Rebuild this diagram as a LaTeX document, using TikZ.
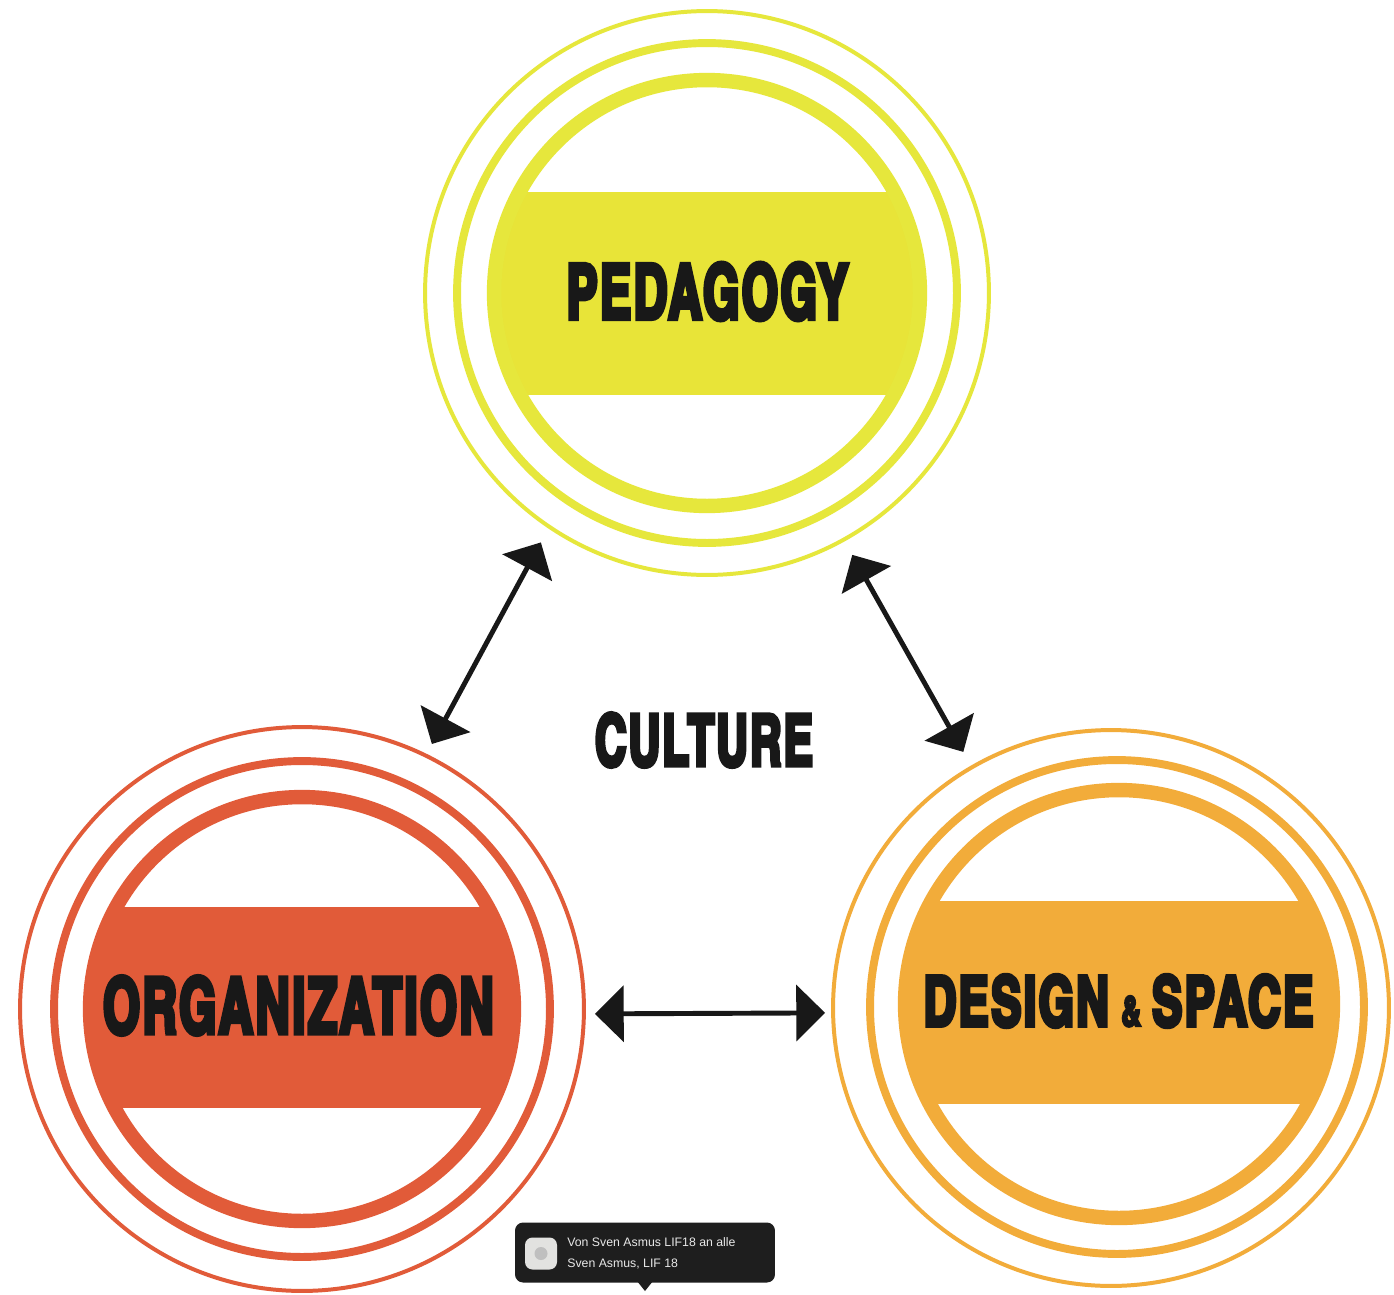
\documentclass[tikz,border=0pt]{standalone}
\usepackage{fontspec}
\usepackage{graphicx}
\setmainfont{Liberation Sans}
\newfontfamily\impact{texgyreheroscn-bold.otf}[FakeBold=6, LetterSpace=4]
\newfontfamily\uifont{Liberation Sans}
\usetikzlibrary{arrows.meta}
\definecolor{ylw}{RGB}{232,228,56}
\definecolor{ylwring}{RGB}{230,231,60}
\definecolor{redc}{RGB}{225,91,57}
\definecolor{orng}{RGB}{242,172,58}
\definecolor{ink}{RGB}{24,24,24}
\definecolor{popbg}{RGB}{30,30,30}
\definecolor{poptext}{RGB}{232,232,232}
\definecolor{iconbg}{RGB}{226,226,224}
\tikzset{
  outerring/.style={circle, draw=#1, line width=2.27pt, inner sep=0pt, outer sep=0pt},
  midring/.style={draw=#1, line width=4.5pt},
  innerring/.style={draw=#1, line width=8.2pt},
  title/.style={font=\impact, text=ink, inner sep=0pt, outer sep=0pt},
  biarrow/.style={draw=ink, line width=2.8pt,
    {Triangle[length=16.4pt,width=31.7pt]}-{Triangle[length=16.4pt,width=31.7pt]}},
  popline/.style={anchor=base west, inner sep=0pt, text=poptext,
    font=\uifont\fontsize{7pt}{8pt}\selectfont}
}
\begin{document}
\begin{tikzpicture}[x=0.02cm, y=-0.02cm]
\useasboundingbox (0,0) rectangle (1394,1295);
\fill[white] (0,0) rectangle (1394,1295);

% ---------- PEDAGOGY (yellow) ----------
\node[outerring=ylwring, minimum size=11.28cm] (ped) at (707,293) {};
\begin{scope}
  \clip (ped.center) circle[radius=4.26cm];
  \fill[ylw] (400,192) rectangle (1000,395);
\end{scope}
\draw[innerring=ylwring] (ped.center) circle[radius=4.26cm];
\draw[midring=ylwring] (ped.center) circle[radius=5.0cm];
\node[title] (tped) at (707.5,291.5) {\resizebox{5.64cm}{1.12cm}{PEDAGOGY}};

% ---------- ORGANIZATION (red) ----------
\node[outerring=redc, minimum size=11.28cm] (org) at (302,1009) {};
\begin{scope}
  \clip (org.center) circle[radius=4.24cm];
  \fill[redc] (0,907) rectangle (600,1108);
\end{scope}
\draw[innerring=redc] (org.center) circle[radius=4.24cm];
\draw[midring=redc] (org.center) circle[radius=4.96cm];
\node[title] (torg) at (298.5,1005.5) {\resizebox{7.82cm}{1.14cm}{ORGANIZATION}};

% ---------- DESIGN & SPACE (orange) ----------
\node[outerring=orng, minimum size=11.12cm] (des) at (1111,1008) {};
\coordinate (desin) at (1119,1004);
\coordinate (desmid) at (1117,1007);
\begin{scope}
  \clip (desin) circle[radius=4.28cm];
  \fill[orng] (800,901) rectangle (1394,1104);
\end{scope}
\draw[innerring=orng] (desin) circle[radius=4.28cm];
\draw[midring=orng] (desmid) circle[radius=4.94cm];
\node[title] (tdes) at (1118.5,1001) {\resizebox{7.8cm}{1.02cm}{DESIGN\hspace{0.22em}{\fontsize{6pt}{6pt}\selectfont\&}\hspace{0.2em}SPACE}};

% ---------- CULTURE ----------
\node[title] (cult) at (704,740) {\resizebox{4.36cm}{1.05cm}{CULTURE}};

% ---------- arrows ----------
\draw[biarrow, shorten <=0.356cm, shorten >=0.264cm] (ped.236.8) -- (org.64.3);
\draw[biarrow, shorten <=0.35cm, shorten >=0.354cm] (ped.299) -- (des.120);
\draw[biarrow, shorten <=0.22cm, shorten >=0.16cm] (org.-1) -- (des.181);

% ---------- chat popup ----------
\node[fill=popbg, rounded corners=0.16cm, minimum width=5.2cm, minimum height=1.2cm,
      inner sep=0pt] (pop) at (645,1252.5) {};
\fill[popbg] (637,1281) -- (653,1281) -- (645,1291) -- cycle;
\node[fill=iconbg, rounded corners=0.15cm, minimum size=0.64cm, inner sep=0pt] (icon) at (541,1253.5) {};
\fill[gray!50] (icon.center) circle[radius=0.13cm];
\node[popline] (l1) at (567,1246.5) {Von Sven Asmus LIF18 an alle};
\node[popline] (l2) at (567,1267) {Sven Asmus, LIF 18};
\end{tikzpicture}
\end{document}
